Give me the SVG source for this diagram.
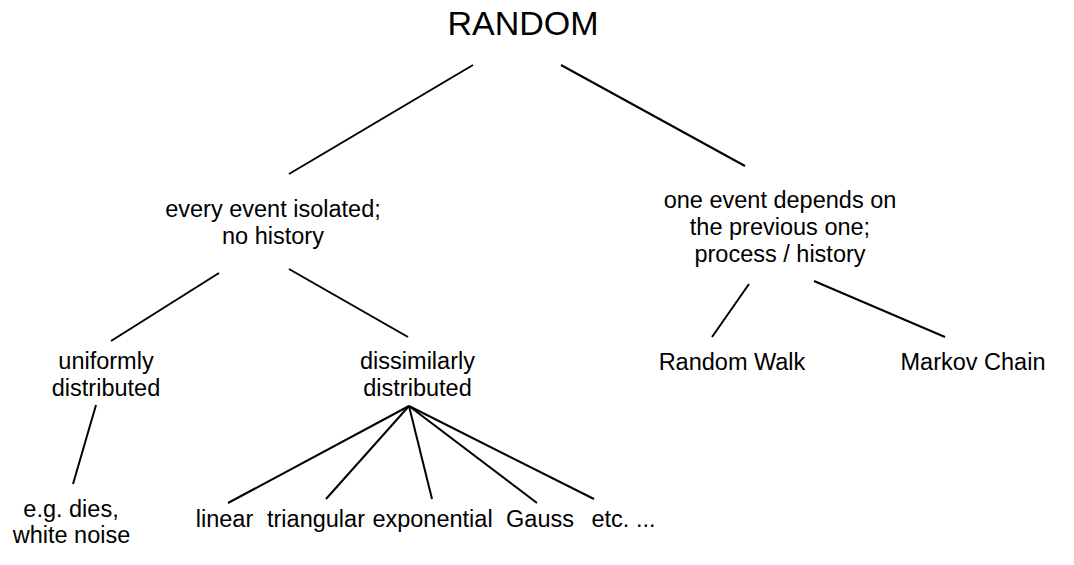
<svg xmlns="http://www.w3.org/2000/svg" width="1074" height="565" viewBox="0 0 1074 565">
<style>
text{font-family:"Liberation Sans",Arial,sans-serif;font-size:23.5px;fill:#000;text-anchor:middle}
.title{font-size:34px}
#connectors line{stroke:#000;stroke-width:2;stroke-linecap:butt}
</style>
<rect width="1074" height="565" fill="#fff"/>
<g id="connectors">
<line x1="473" y1="65" x2="289" y2="174"/>
<line x1="561" y1="65" x2="745" y2="166"/>
<line x1="219" y1="273" x2="111" y2="341"/>
<line x1="289" y1="269" x2="408" y2="337"/>
<line x1="749" y1="284" x2="712" y2="337"/>
<line x1="814" y1="281" x2="945" y2="337"/>
<line x1="96" y1="405" x2="73" y2="484"/>
<line x1="409" y1="406" x2="228" y2="503"/>
<line x1="409" y1="406" x2="326" y2="499"/>
<line x1="409" y1="406" x2="432" y2="499"/>
<line x1="409" y1="406" x2="537" y2="503"/>
<line x1="409" y1="406" x2="594" y2="499"/>
</g>
<g id="random"><text class="title" x="523" y="35">RANDOM</text></g>
<g id="isolated"><text x="273" y="217">every event isolated;</text><text x="273" y="244">no history</text></g>
<g id="depends"><text x="780" y="208">one event depends on</text><text x="780" y="235">the previous one;</text><text x="780" y="262">process / history</text></g>
<g id="uniform"><text x="106" y="369">uniformly</text><text x="106" y="396">distributed</text></g>
<g id="dissimilar"><text x="417.5" y="369">dissimilarly</text><text x="417.5" y="396">distributed</text></g>
<g id="walk"><text x="732" y="370">Random Walk</text></g>
<g id="markov"><text x="973" y="370">Markov Chain</text></g>
<g id="dies"><text x="71" y="517">e.g. dies,</text><text x="71.5" y="543">white noise</text></g>
<g id="linear"><text x="224.5" y="527">linear</text></g>
<g id="triangular"><text x="316" y="527">triangular</text></g>
<g id="exponential"><text x="432.5" y="527">exponential</text></g>
<g id="gauss"><text x="540" y="527">Gauss</text></g>
<g id="etc"><text x="623.5" y="527">etc. ...</text></g>
</svg>
